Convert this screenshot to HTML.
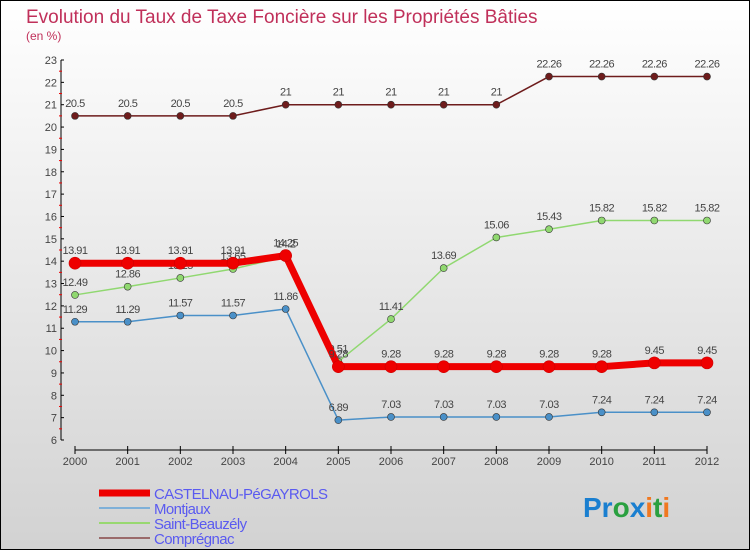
<!DOCTYPE html>
<html><head><meta charset="utf-8"><style>
body{margin:0;width:750px;height:550px;overflow:hidden;font-family:"Liberation Sans",sans-serif}
#c{position:absolute;left:0;top:0;width:748px;height:548px;border:1px solid #000;background:linear-gradient(#ffffff,#d2d2d2)}
</style></head><body>
<div id="c"></div>
<svg id="s" width="750" height="550" style="position:absolute;left:0;top:0">
<text x="26" y="23" font-size="19" fill="#c0305a">Evolution du Taux de Taxe Foncière sur les Propriétés Bâties</text>
<text x="26" y="40" font-size="12" fill="#c0305a">(en %)</text>
<g id="axes"></g><g id="series"></g><g id="legend"></g>
<text x="583" y="517" font-size="28" font-weight="bold"><tspan fill="#1a7fd0">Pr</tspan><tspan fill="#2aa040">o</tspan><tspan fill="#1a7fd0">x</tspan><tspan fill="#f07820">i</tspan><tspan fill="#2aa040">t</tspan><tspan fill="#f07820">i</tspan></text>
</svg>
<script>
const years=[2000,2001,2002,2003,2004,2005,2006,2007,2008,2009,2010,2011,2012];
const yTicks=[6,7,8,9,10,11,12,13,14,15,16,17,18,19,20,21,22,23];
const castelnau=[13.91,13.91,13.91,13.91,14.25,9.28,9.28,9.28,9.28,9.28,9.28,9.45,9.45];
const montjaux=[11.29,11.29,11.57,11.57,11.86,6.89,7.03,7.03,7.03,7.03,7.24,7.24,7.24];
const saintBeauzely=[12.49,12.86,13.25,13.65,14.2,9.51,11.41,13.69,15.06,15.43,15.82,15.82,15.82];
const compregnac=[20.5,20.5,20.5,20.5,21,21,21,21,21,22.26,22.26,22.26,22.26];
const NS="http://www.w3.org/2000/svg";
const X=i=>75+i*(707-75)/(years.length-1);
const Y=v=>440-(v-6)*(380/17);
function mk(p,t,a){const e=document.createElementNS(NS,t);for(const k in a)e.setAttribute(k,a[k]);p.appendChild(e);return e;}
const ax=document.getElementById('axes');
let l=mk(ax,'line',{x1:61,y1:Y(23),x2:61,y2:Y(6),stroke:'#000'});

l=mk(ax,'line',{x1:75,y1:450,x2:707,y2:450,stroke:'#000'});

yTicks.forEach(v=>{
 mk(ax,'line',{x1:61,y1:Y(v),x2:64,y2:Y(v),stroke:'#000'});
 if(v<23)mk(ax,'line',{x1:59,y1:Y(v+0.5),x2:62,y2:Y(v+0.5),stroke:'#e00'});
 const t=mk(ax,'text',{x:57,y:Y(v)+4,'font-size':11,'text-anchor':'end',fill:'#444'});t.textContent=v;
 
});
years.forEach((yr,i)=>{
 mk(ax,'line',{x1:X(i),y1:446,x2:X(i),y2:454,stroke:'#000'});
 const t=mk(ax,'text',{x:X(i),y:465,'font-size':11,'text-anchor':'middle',fill:'#444'});t.textContent=yr;
 
});
const sg=document.getElementById('series');
const series=[
 {d:compregnac,c:'#6e1c1c',w:1.5,r:3.5,n:'compregnac'},
 {d:montjaux,c:'#4a90c8',w:1.5,r:3.5,n:'montjaux'},
 {d:saintBeauzely,c:'#90d870',w:1.5,r:3.5,n:'saint-beauzely'},
 {d:castelnau,c:'#ee0000',w:7,r:6,n:'castelnau'}];
series.forEach(s=>{
 const p=mk(sg,'polyline',{points:s.d.map((v,i)=>X(i)+','+Y(v)).join(' '),fill:'none',stroke:s.c,'stroke-width':s.w,'stroke-linejoin':'round'});
 
 s.d.forEach((v,i)=>{
  const c=mk(sg,'circle',{cx:X(i),cy:Y(v),r:s.r,fill:s.c,stroke:s.n==='castelnau'?'#cc0000':'#333','stroke-width':0.6});
  
  const t=mk(sg,'text',{x:X(i),y:Y(v)-9,'font-size':11,'text-anchor':'middle',fill:'#444','letter-spacing':'-0.5'});t.textContent=v;
  
 });
});
const lg=document.getElementById('legend');
[['CASTELNAU-PéGAYROLS','#ee0000',7],['Montjaux','#7fb0d8',2],['Saint-Beauzély','#98d870',2],['Comprégnac','#9a6a6a',2]].forEach((e,i)=>{
 const y=493+i*15;
 const ln=mk(lg,'line',{x1:99,y1:y,x2:150,y2:y,stroke:e[1],'stroke-width':e[2]});
 
 const t=mk(lg,'text',{x:154,y:y+6,'font-size':15,fill:'#5a5af0','letter-spacing':'-0.6'});t.textContent=e[0];
 
});
</script>
</body></html>
